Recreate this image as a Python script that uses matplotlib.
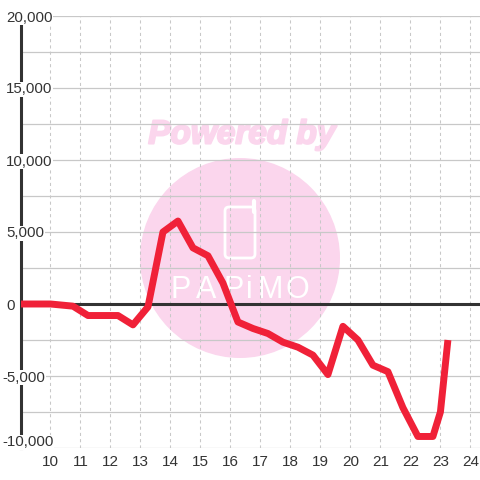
import matplotlib
matplotlib.use("Agg")
import matplotlib.pyplot as plt
import matplotlib.patheffects as pe
from matplotlib.patches import Circle, FancyBboxPatch

hours = [9, 10, 10.75, 11.25, 12.25, 12.75, 13.25, 13.75, 14.25, 14.75, 15.25, 15.75, 16.25, 16.75,
         17.25, 17.75, 18.25, 18.75, 19.25, 19.75, 20.25, 20.75, 21.25, 21.75, 22.25, 22.75, 23, 23.25]
balance = [0, 0, -150, -800, -800, -1450, -200, 5000, 5760, 3900, 3350, 1450, -1250, -1700,
           -2050, -2650, -3000, -3550, -4900, -1550, -2500, -4250, -4700, -7200, -9200, -9200, -7500, -2500]
x_ticks = list(range(10, 25))
y_ticks = [-10000, -5000, 0, 5000, 10000, 15000, 20000]
y_minor = [-7500, -2500, 2500, 7500, 12500, 17500]
y_labels = ["-10,000", "-5,000", "0", "5,000", "10,000", "15,000", "20,000"]

plt.rcParams["font.family"] = ["Liberation Sans", "DejaVu Sans"]
PINK = "#fbd6ed"
DARK = "#333333"
GRID = "#c8c8c8"

fig = plt.figure(figsize=(4.8, 4.8), dpi=100, facecolor="white")

# watermark sits under the chart, in pixel coords
bg = fig.add_axes([0, 0, 1, 1], zorder=0)
bg.set_xlim(0, 480)
bg.set_ylim(480, 0)
bg.axis("off")
bg.add_patch(Circle((240, 258), 100, fc=PINK, ec="none"))
bg.text(242, 135, "Powered by", color=PINK, fontsize=24, fontweight="bold", fontstyle="italic",
        ha="center", va="center", path_effects=[pe.withStroke(linewidth=1.5, foreground=PINK)])
bg.add_patch(FancyBboxPatch((225, 207), 30, 51, boxstyle="round,pad=0,rounding_size=4",
                            fc="none", ec="white", lw=2))
bg.plot([254, 254], [201, 212], color="white", lw=3, solid_capstyle="round")
for ch, cx in zip("PAPiMO", [181, 206, 234, 249, 270, 297]):
    bg.text(cx, 290, ch, color="white", fontsize=22, ha="center", va="center")

ax = fig.add_axes([20.5 / 480, 32 / 480, 459.5 / 480, 432 / 480], zorder=1)
ax.patch.set_visible(False)
ax.set_xlim(9, 24.32)
ax.set_ylim(-10000, 20000)

ax.set_xticks(x_ticks)
ax.set_yticks(y_ticks)
ax.set_yticks(y_minor, minor=True)
ax.set_yticklabels([])
ax.tick_params(axis="both", which="both", length=0)
ax.tick_params(axis="x", labelsize=11, labelcolor=DARK, pad=5)
ax.grid(True, axis="y", which="both", color=GRID, lw=0.9)
ax.grid(True, axis="x", color=GRID, lw=0.75, ls=(0, (3, 3)))
ax.set_axisbelow(True)

for side in ["top", "right", "bottom"]:
    ax.spines[side].set_visible(False)
ax.spines["left"].set_color(DARK)
ax.spines["left"].set_linewidth(2.2)
ax.axhline(0, color=DARK, lw=2.2, zorder=2)

ax.plot(hours, balance, color="#f02138", lw=5, solid_joinstyle="round", solid_capstyle="butt", zorder=4)

# y labels are left aligned and knock the axis line out behind them
for val, lab in zip(y_ticks, y_labels):
    left = 2 if val < 0 else 6
    y = -9500 if val == -10000 else val
    ax.annotate(lab, xy=(left, y), xycoords=("figure pixels", "data"), color=DARK, fontsize=10.8,
                ha="left", va="center_baseline", annotation_clip=False, zorder=6,
                bbox=dict(fc="white", ec="none", pad=0.5))

fig.savefig("out.png", dpi=100)
